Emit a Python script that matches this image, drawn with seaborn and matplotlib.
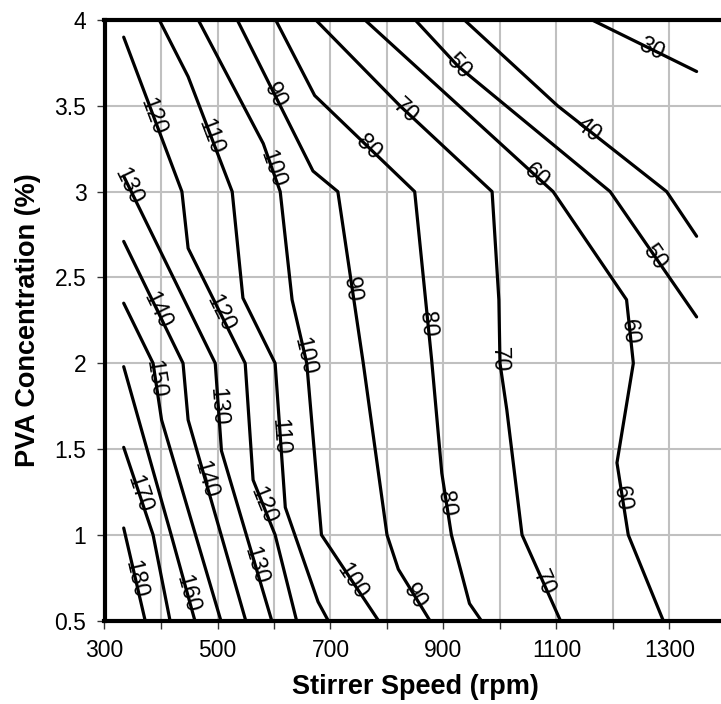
import numpy as np
import pandas as pd
import matplotlib
matplotlib.use("Agg")
import matplotlib.pyplot as plt
import seaborn as sns

# ---- contour polylines: x = stirrer speed (rpm), y = PVA (%) ----
x_180 = [334, 372];                         y_180 = [1.04, 0.5]
x_170 = [334, 386, 416];                    y_170 = [1.51, 1.0, 0.5]
x_160 = [334, 418, 460];                    y_160 = [1.98, 1.0, 0.5]
x_150 = [334, 386, 401, 506];               y_150 = [2.35, 2.0, 1.67, 0.5]
x_140 = [334, 439, 448, 550];               y_140 = [2.71, 2.0, 1.67, 0.5]
x_130 = [334, 496, 507, 596];               y_130 = [3.09, 2.0, 1.49, 0.5]
x_120 = [334, 437, 448, 549, 563, 602, 640]; y_120 = [3.9, 3.0, 2.67, 2.0, 1.32, 1.0, 0.5]
x_110 = [397, 448, 526, 545, 602, 620, 678, 696]; y_110 = [4.0, 3.67, 3.0, 2.38, 2.0, 1.16, 0.61, 0.5]
x_100 = [466, 581, 611, 632, 658, 684, 785]; y_100 = [4.0, 3.28, 3.0, 2.37, 2.0, 1.0, 0.5]
x_90 = [535, 669, 713, 758, 800, 820, 876];  y_90 = [4.0, 3.12, 3.0, 2.0, 1.0, 0.8, 0.5]
x_80 = [603, 672, 849, 879, 897, 914, 946, 967]; y_80 = [4.0, 3.56, 3.0, 2.02, 1.36, 1.0, 0.6, 0.5]
x_70 = [674, 823, 986, 998, 1000, 1012, 1039, 1107]; y_70 = [4.0, 3.5, 3.0, 2.37, 2.0, 1.73, 1.0, 0.5]
x_60 = [761, 1094, 1224, 1236, 1207, 1227, 1289]; y_60 = [4.0, 3.0, 2.37, 2.0, 1.42, 1.0, 0.5]
x_50 = [850, 926, 1195, 1348];              y_50 = [4.0, 3.73, 3.0, 2.27]
x_40 = [937, 1102, 1295, 1348];             y_40 = [4.0, 3.5, 3.0, 2.74]
x_30 = [1163, 1348];                        y_30 = [4.0, 3.70]

contour_levels = [180, 170, 160, 150, 140, 130, 120, 110, 100, 90, 80, 70, 60, 50, 40, 30]
contour_x = [x_180, x_170, x_160, x_150, x_140, x_130, x_120, x_110, x_100, x_90, x_80, x_70, x_60, x_50, x_40, x_30]
contour_y = [y_180, y_170, y_160, y_150, y_140, y_130, y_120, y_110, y_100, y_90, y_80, y_70, y_60, y_50, y_40, y_30]

# contour labels: value and the PVA level where it sits on its line
label_values = [120, 110, 90, 100, 80, 70, 50, 40, 60, 50, 30, 130, 140, 120, 100, 90, 80, 70, 60,
                150, 130, 110, 170, 140, 120, 80, 60, 180, 160, 130, 100, 90, 70]
label_y = [3.44, 3.32, 3.56, 3.13, 3.26, 3.47, 3.73, 3.36, 3.09, 2.62, 3.83, 3.03, 2.31, 2.29, 2.04, 2.43, 2.23, 2.02, 2.18,
           1.91, 1.75, 1.57, 1.24, 1.32, 1.17, 1.18, 1.21, 0.74, 0.66, 0.82, 0.73, 0.64, 0.72]

x_ticks = [300, 400, 500, 600, 700, 800, 900, 1000, 1100, 1200, 1300, 1400]
x_ticklabels = ["300", "", "500", "", "700", "", "900", "", "1100", "", "1300", ""]
y_ticks = [0.5, 1, 1.5, 2, 2.5, 3, 3.5, 4]
y_ticklabels = ["0.5", "1", "1.5", "2", "2.5", "3", "3.5", "4"]

sns.set_style("white")
plt.rcParams["font.family"] = ["Liberation Sans", "DejaVu Sans"]
plt.rcParams["text.color"] = "black"
plt.rcParams["axes.labelcolor"] = "black"
plt.rcParams["xtick.color"] = "black"
plt.rcParams["ytick.color"] = "black"

rows = []
for lev, xs, ys in zip(contour_levels, contour_x, contour_y):
    for i, (xv, yv) in enumerate(zip(xs, ys)):
        rows.append({"level": lev, "order": i, "speed": xv, "pva": yv})
df = pd.DataFrame(rows)

W, H = 721, 704
fig = plt.figure(figsize=(W / 100, H / 100), dpi=100)
ax = fig.add_axes([104.5 / W, (H - 620.7) / H, 621.5 / W, (620.7 - 20) / H])

ax.set_xlim(300, 1400)
ax.set_ylim(0.5, 4)
ax.set_xticks(x_ticks)
ax.set_xticklabels(x_ticklabels)
ax.set_yticks(y_ticks)
ax.set_yticklabels(y_ticklabels)
ax.grid(True, color="#c0c0c0", linewidth=1.5)
ax.set_axisbelow(True)

sns.lineplot(data=df, x="speed", y="pva", units="level", estimator=None, sort=False,
             color="black", linewidth=2.3, ax=ax, legend=False)

ax.set_xlim(300, 1400)
ax.set_ylim(0.5, 4)

for side in ["left", "bottom", "top"]:
    ax.spines[side].set_visible(True)
    ax.spines[side].set_color("black")
    ax.spines[side].set_linewidth(3)
ax.spines["right"].set_visible(False)

ax.tick_params(axis="both", direction="out", length=6, width=1, color="#333333",
               labelcolor="black", labelsize=16.5, pad=7, bottom=True, left=True)
ax.set_xlabel("Stirrer Speed (rpm)", fontsize=19.5, fontweight="bold", labelpad=9, color="black")
ax.set_ylabel("PVA Concentration (%)", fontsize=19.5, fontweight="bold", labelpad=10, color="black")

# contour labels along the lines
fig.canvas.draw()
lookup = {lev: (np.array(xs, float), np.array(ys, float)) for lev, xs, ys in zip(contour_levels, contour_x, contour_y)}
for val, yl in zip(label_values, label_y):
    xs, ys = lookup[val]
    xl = np.interp(yl, ys[::-1], xs[::-1])
    idx = 0
    for i in range(len(ys) - 1):
        if ys[i] >= yl >= ys[i + 1]:
            idx = i
            break
    p1 = ax.transData.transform((xs[idx], ys[idx]))
    p2 = ax.transData.transform((xs[idx + 1], ys[idx + 1]))
    ang = np.degrees(np.arctan2(p2[1] - p1[1], p2[0] - p1[0]))
    ax.text(xl, yl, str(val), rotation=ang, rotation_mode="anchor",
            ha="center", va="center", fontsize=16.5, color="black")

fig.savefig("out.png", dpi=100)
